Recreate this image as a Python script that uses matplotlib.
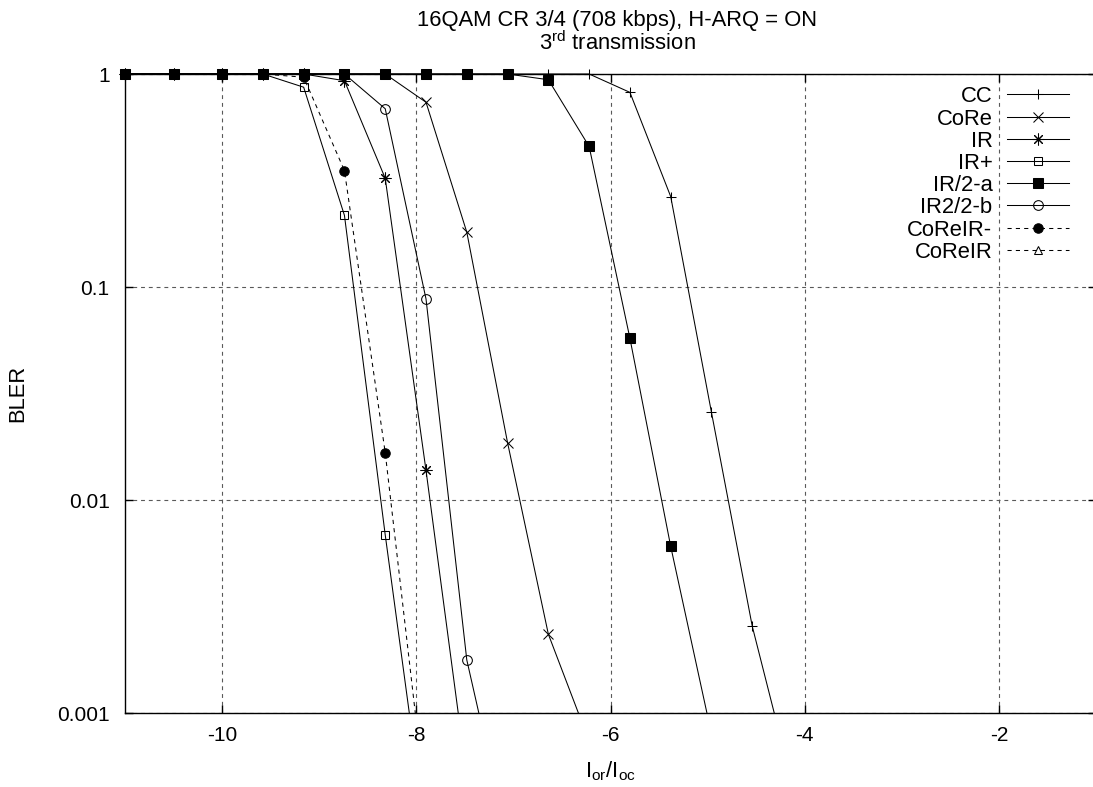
import numpy as np
import matplotlib
matplotlib.use("Agg")
import matplotlib.pyplot as plt
from matplotlib.patches import Rectangle
from matplotlib.lines import Line2D

plt.rcParams['font.family'] = ['Liberation Sans', 'DejaVu Sans']
plt.rcParams['mathtext.fontset'] = 'custom'
plt.rcParams['mathtext.rm'] = 'Liberation Sans'
plt.rcParams['mathtext.it'] = 'Liberation Sans'
plt.rcParams['axes.unicode_minus'] = False

# ---------------- data ----------------
x_vals = [-11.0, -10.5, -10.0, -9.58, -9.16, -8.74, -8.32, -7.90, -7.48,
          -7.06, -6.64, -6.22, -5.80, -5.38, -4.96, -4.54, -4.12]

cc_y = [1, 1, 1, 1, 1, 1, 1, 1, 1, 1, 1, 1, 0.82, 0.266, 0.0258, 0.00256, 0.00045]
core_y = [1, 1, 1, 1, 1, 1, 1, 0.737, 0.181, 0.0186, 0.00235, 0.00074]
ir_y = [1, 1, 1, 1, 1, 0.93, 0.324, 0.0138, 0.0005]
irplus_y = [1, 1, 1, 1, 0.867, 0.217, 0.00687, 0.000264]
ir2a_y = [1, 1, 1, 1, 1, 1, 1, 1, 1, 1, 0.94, 0.457, 0.0575, 0.00607, 0.0008]
ir22b_y = [1, 1, 1, 1, 1, 1, 0.687, 0.088, 0.00178, 0.000255]
coreirm_y = [1, 1, 1, 1, 0.966, 0.352, 0.0167, 0.000368]
coreir_y = [1, 1, 1, 1]

series_names = ["CC", "CoRe", "IR", "IR+", "IR/2-a", "IR2/2-b", "CoReIR-", "CoReIR"]
series_values = [cc_y, core_y, ir_y, irplus_y, ir2a_y, ir22b_y, coreirm_y, coreir_y]

x_ticks = [-10, -8, -6, -4, -2]
x_tick_labels = ["-10", "-8", "-6", "-4", "-2"]
y_ticks = [0.001, 0.01, 0.1, 1]
y_tick_labels = ["0.001", "0.01", "0.1", "1"]

# ---------------- styles ----------------
styles = [
    dict(marker='+', ms=7.5, mfc='none', ls='-'),
    dict(marker='x', ms=6.5, mfc='none', ls='-'),
    dict(marker=(8, 2, 0), ms=8.5, mfc='none', ls='-'),
    dict(marker='s', ms=6.3, mfc='none', ls='-'),
    dict(marker='s', ms=7.2, mfc='black', ls='-'),
    dict(marker='o', ms=7.0, mfc='none', ls='-'),
    dict(marker='o', ms=6.8, mfc='black', ls=(0, (4, 4))),
    dict(marker='^', ms=5.5, mfc='none', ls=(0, (4, 4))),
]

W, H = 1093, 787
fig = plt.figure(figsize=(W / 100, H / 100), dpi=100)
ax_l, ax_r, ax_t, ax_b = 125, 1096, 74, 713.3
ax = fig.add_axes([ax_l / W, 1 - ax_b / H, (ax_r - ax_l) / W, (ax_b - ax_t) / H])

ax.set_xscale('linear')
ax.set_yscale('log')
ax.set_xlim(-11, -1)
ax.set_ylim(0.001, 1)

clip_rect = Rectangle((-0.05, 0.0), 1.1, 1.1, transform=ax.transAxes)

for name, yv, st in zip(series_names, series_values, styles):
    xs = x_vals[:len(yv)]
    lines = ax.plot(xs, yv, color='black', lw=0.75, linestyle=st['ls'],
                    marker=st['marker'], markersize=st['ms'],
                    markerfacecolor=st['mfc'], markeredgecolor='black',
                    markeredgewidth=0.75)
    for ln in lines:
        ln.set_clip_path(clip_rect)

# grid
ax.grid(True, which='major', color='0.35', lw=0.8, linestyle=(0, (3.5, 3.5)))
ax.minorticks_off()

ax.set_xticks(x_ticks)
ax.set_xticklabels(x_tick_labels)
ax.set_yticks(y_ticks)
ax.set_yticklabels(y_tick_labels)
ax.yaxis.set_minor_locator(matplotlib.ticker.NullLocator())

ax.tick_params(axis='both', direction='in', length=6, width=1.0, labelsize=15,
               top=True, right=True, colors='black')
ax.tick_params(axis='x', pad=9)
ax.tick_params(axis='y', pad=11)

for side in ['left', 'bottom', 'top', 'right']:
    ax.spines[side].set_linewidth(1.0)

FS = 15.8
ax.set_xlabel(r'I$_{\rm or}$/I$_{\rm oc}$', fontsize=FS)
ax.xaxis.set_label_coords(0.5, -(759 - ax_b) / (ax_b - ax_t))
ax.set_ylabel('BLER', fontsize=FS)
ax.yaxis.set_label_coords((28 - ax_l) / (ax_r - ax_l), 0.5)

fig.text(617 / W, 1 - 26 / H, '16QAM CR 3/4 (708 kbps), H-ARQ = ON',
         ha='center', va='baseline', fontsize=FS)
fig.text(617 / W, 1 - 49.5 / H, r'3$^{\rm rd}$ transmission',
         ha='center', va='baseline', fontsize=FS)

# legend (gnuplot style: right-aligned text, sample to the right)
def fx(px):
    return (px - ax_l) / (ax_r - ax_l)

def fy(py):
    return (ax_b - py) / (ax_b - ax_t)

row0 = 94.3
dy = 22.2
for i, (name, st) in enumerate(zip(series_names, styles)):
    py = row0 + i * dy
    ax.text(fx(992.5), fy(py), name, transform=ax.transAxes, ha='right',
            va='center_baseline', fontsize=FS)
    ax.add_line(Line2D([fx(1007), fx(1069)], [fy(py), fy(py)], transform=ax.transAxes,
                       color='black', lw=0.75, linestyle=st['ls'], clip_on=False))
    ax.add_line(Line2D([fx(1038)], [fy(py)], transform=ax.transAxes,
                       marker=st['marker'], markersize=st['ms'],
                       markerfacecolor=st['mfc'], markeredgecolor='black',
                       markeredgewidth=0.75, linestyle='none', clip_on=False))

fig.savefig('out.png', dpi=100)
